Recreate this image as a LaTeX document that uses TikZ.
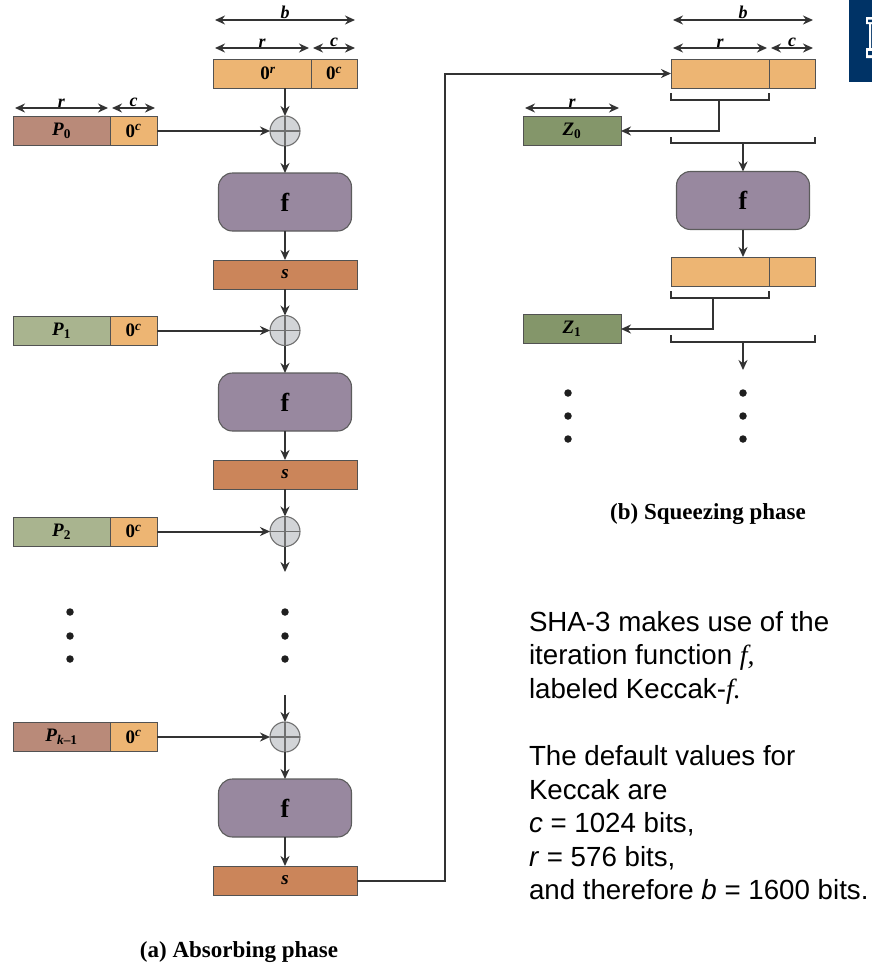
\documentclass[tikz,border=0pt]{standalone}
\usepackage{fontspec}
\setmainfont{Liberation Sans}
\newfontfamily\labelfont{Liberation Serif}
\usetikzlibrary{arrows.meta}
\definecolor{padcol}{HTML}{EDB573}
\definecolor{msgacol}{HTML}{B98A79}
\definecolor{msgbcol}{HTML}{A9B48F}
\definecolor{outcol}{HTML}{84966A}
\definecolor{fcol}{HTML}{98889F}
\definecolor{statecol}{HTML}{CB855A}
\definecolor{xorcol}{HTML}{D2D4D7}
\definecolor{linecol}{HTML}{333333}
\definecolor{logocol}{HTML}{003366}
\newcommand{\zero}[1]{\textbf{0}\textsuperscript{\bfseries\itshape #1}}
\newcommand{\ftag}{\raisebox{-4pt}{f}}
\begin{document}
\begin{tikzpicture}[x=1pt,y=-1pt,>={Stealth[length=10pt,width=9pt]},
    every node/.style={inner sep=0pt,outer sep=0pt,font=\labelfont\bfseries\fontsize{19}{20}\selectfont},
    cell/.style={draw=linecol!85,line width=1pt,minimum height=29pt},
    ffunc/.style={draw=linecol!80,line width=1.1pt,fill=fcol,rounded corners=14pt,minimum width=133pt,minimum height=58pt,font=\labelfont\bfseries\fontsize{26}{28}\selectfont},
    xorgate/.style={circle,draw=linecol!70,line width=1.1pt,fill=xorcol,minimum size=30pt,
        path picture={\draw[linecol!70,line width=1.1pt] (path picture bounding box.north) -- (path picture bounding box.south)
            (path picture bounding box.west) -- (path picture bounding box.east);}},
    conn/.style={->,draw=linecol,line width=2pt},
    wire/.style={draw=linecol,line width=2pt},
    span/.style={<->,draw=linecol,line width=1.6pt},
    dimlabel/.style={above=1pt,font=\labelfont\bfseries\itshape\fontsize{18}{19}\selectfont},
    dotmark/.style={circle,fill=linecol!60!black,minimum size=7.5pt},
    caption/.style={font=\labelfont\bfseries\fontsize{23}{26}\selectfont}]
    \useasboundingbox (0,0) rectangle (872,975);
    \node[fill=logocol,minimum width=23pt,minimum height=82pt,anchor=north west] (logo) at (849,0) {};
    \fill[white] (866,17) rectangle (872,24) (866,48) rectangle (872,58) (869,24) rectangle (871,48);
    \fill[logocol] (868,19.5) rectangle (872,22) (868,51) rectangle (872,55);
    % absorbing phase
    \node[cell,fill=padcol,minimum width=98pt,anchor=north west] (initr) at (213,59) {\hspace{12pt}\zero{r}};
    \node[cell,fill=padcol,minimum width=46pt,anchor=north west] (initc) at (311,59) {\zero{c}};
    \node[cell,fill=msgacol,minimum width=97pt,anchor=north west] (msga) at (13,116.5) {\textit{P}\textsubscript{0}};
    \node[cell,fill=padcol,minimum width=47pt,anchor=north west] (msgapad) at (110,116.5) {\zero{c}};
    \node[xorgate] (xora) at (285,131) {};
    \node[ffunc] (funa) at (285,202) {\ftag};
    \node[cell,fill=statecol,minimum width=144pt] (statea) at (285,274.5) {\textit{s}};
    \node[cell,fill=msgbcol,minimum width=97pt,anchor=north west] (msgb) at (13,316) {\textit{P}\textsubscript{1}};
    \node[cell,fill=padcol,minimum width=47pt,anchor=north west] (msgbpad) at (110,316) {\zero{c}};
    \node[xorgate] (xorb) at (285,330.5) {};
    \node[ffunc] (funb) at (285,402) {\ftag};
    \node[cell,fill=statecol,minimum width=144pt] (stateb) at (285,474.5) {\textit{s}};
    \node[cell,fill=msgbcol,minimum width=97pt,anchor=north west] (msgc) at (13,517) {\textit{P}\textsubscript{2}};
    \node[cell,fill=padcol,minimum width=47pt,anchor=north west] (msgcpad) at (110,517) {\zero{c}};
    \node[xorgate] (xorc) at (285,531.5) {};
    \node[cell,fill=msgacol,minimum width=97pt,anchor=north west] (msgd) at (13,722.5) {\textit{P}\textsubscript{\textit{k}–1}};
    \node[cell,fill=padcol,minimum width=47pt,anchor=north west] (msgdpad) at (110,722.5) {\zero{c}};
    \node[xorgate] (xord) at (285,737) {};
    \node[ffunc] (fund) at (285,808) {\ftag};
    \node[cell,fill=statecol,minimum width=144pt] (stated) at (285,880.5) {\textit{s}};
    \coordinate (xorcout) at (285,572);
    \coordinate (xordin) at (285,695);
    \coordinate (turn) at (445,880.5);
    \node[dotmark] (dota) at (70,612) {};
    \node[dotmark] (dotb) at (70,636) {};
    \node[dotmark] (dotc) at (70,659) {};
    \node[dotmark] (dotd) at (285,612) {};
    \node[dotmark] (dote) at (285,636) {};
    \node[dotmark] (dotf) at (285,659) {};
    % squeezing phase
    \node[cell,fill=padcol,minimum width=98pt,anchor=north west] (outr) at (671,59) {};
    \node[cell,fill=padcol,minimum width=46pt,anchor=north west] (outc) at (769,59) {};
    \node[cell,fill=outcol,minimum width=98pt,anchor=north west] (zout) at (523,116.5) {\textit{Z}\textsubscript{0}};
    \node[ffunc] (func) at (743,200.5) {\ftag};
    \node[cell,fill=padcol,minimum width=98pt,anchor=north west] (nextr) at (671,257) {};
    \node[cell,fill=padcol,minimum width=46pt,anchor=north west] (nextc) at (769,257) {};
    \node[cell,fill=outcol,minimum width=98pt,anchor=north west] (zoutb) at (523,314.5) {\textit{Z}\textsubscript{1}};
    \node[dotmark] (dotg) at (568,393) {};
    \node[dotmark] (doth) at (568,416) {};
    \node[dotmark] (doti) at (568,439) {};
    \node[dotmark] (dotj) at (743,393) {};
    \node[dotmark] (dotk) at (743,416) {};
    \node[dotmark] (dotl) at (743,439) {};
    \node[caption] (capa) at (239,952.5) {(a) Absorbing phase};
    \node[caption] (capb) at (708,514.5) {(b) Squeezing phase};
    \node[anchor=north west,align=left,font=\fontsize{27.7}{33.6}\selectfont] (note) at (529,611)
        {SHA-3 makes use of the\\iteration function {\labelfont\itshape f,}\\labeled Keccak-{\labelfont\itshape f.}\\[33.6pt]The default values for\\Keccak are\\\textit{c} = 1024 bits,\\\textit{r} = 576 bits,\\and therefore \textit{b} = 1600 bits.};
    % size arrows
    \draw[span] (215,20) -- node[dimlabel] {b} (355,20);
    \draw[span] (215,48) -- node[dimlabel] {r} (309,48);
    \draw[span] (313,48) -- node[dimlabel] {c} (355,48);
    \draw[span] (15,108) -- node[dimlabel] {r} (108,108);
    \draw[span] (112,108) -- node[dimlabel] {c} (155,108);
    \draw[span] (673,20) -- node[dimlabel] {b} (813,20);
    \draw[span] (673,48) -- node[dimlabel] {r} (767,48);
    \draw[span] (771,48) -- node[dimlabel] {c} (813,48);
    \draw[span] (525,108) -- node[dimlabel] {r} (619,108);
    % connectors
    \draw[conn] (xora |- initr.south) -- (xora);
    \draw[conn] (msgapad) -- (xora);
    \draw[conn] (xora) -- (funa);
    \draw[conn] (funa) -- (statea);
    \draw[conn] (statea) -- (xorb);
    \draw[conn] (msgbpad) -- (xorb);
    \draw[conn] (xorb) -- (funb);
    \draw[conn] (funb) -- (stateb);
    \draw[conn] (stateb) -- (xorc);
    \draw[conn] (msgcpad) -- (xorc);
    \draw[conn] (xorc) -- (xorcout);
    \draw[conn] (xordin) -- (xord);
    \draw[conn] (msgdpad) -- (xord);
    \draw[conn] (xord) -- (fund);
    \draw[conn] (fund) -- (stated);
    \draw[conn] (stated) -- (turn) |- (outr);
    % output brackets
    \coordinate (brka) at (671,100);
    \coordinate (brkb) at (769,100);
    \draw[wire] (671,93) -- (brka) -- (brkb) -- (769,93);
    \draw[conn] (719,100) |- (zout);
    \draw[wire] (671,137) -- (671,143) -- (815,143) -- (815,137);
    \draw[conn] (743,143) -- (func);
    \draw[conn] (func) -- (func |- nextr.north);
    \draw[wire] (671,291) -- (671,298) -- (769,298) -- (769,291);
    \draw[conn] (713,298) |- (zoutb);
    \draw[wire] (671,335) -- (671,342) -- (815,342) -- (815,335);
    \draw[conn] (743,342) -- (743,370);
\end{tikzpicture}
\end{document}
